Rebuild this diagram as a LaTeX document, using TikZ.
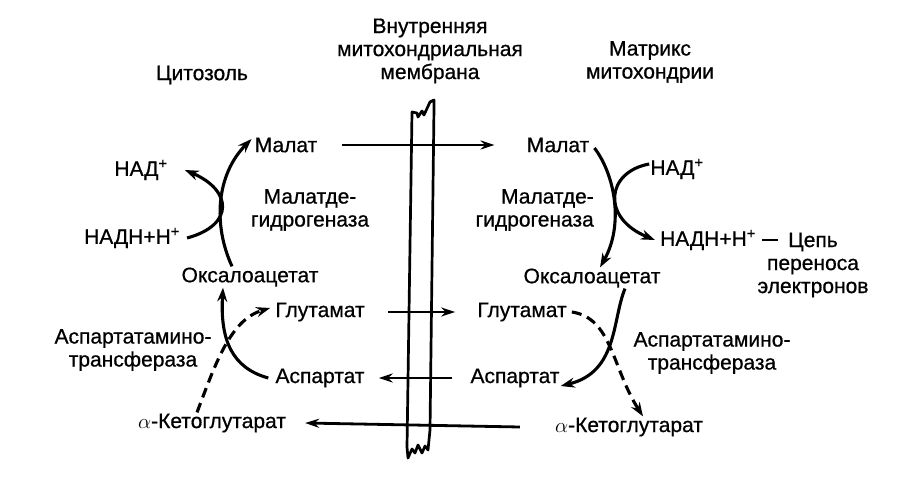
\documentclass[tikz,border=0pt]{standalone}
\usepackage{fontspec}
\setmainfont[FakeBold=0.7]{Liberation Sans}
\usetikzlibrary{arrows.meta}
\begin{document}
\begin{tikzpicture}[x=1pt,y=-1pt,
  lbl/.style={font=\fontsize{21}{23}\selectfont, inner sep=1pt, align=center},
  arr/.style={line width=2.8pt, -{Stealth[length=14pt,width=9pt]}},
  curv/.style={line width=3.1pt, -{Stealth[length=14pt,width=10pt]}},
  dsh/.style={curv, dash pattern=on 10pt off 6pt},
  memb/.style={line width=2.7pt, line join=round}]
\useasboundingbox (0,0) rectangle (910,494);

% headings
\node[lbl] (cyt) at (202,75) {Цитозоль};
\node[lbl] (mem) at (430,51) {Внутренняя\\митохондриальная\\мембрана};
\node[lbl] (mat) at (650,62) {Матрикс\\митохондрии};

% left (cytosol)
\node[lbl] (malL) at (286,145) {Малат};
\node[lbl] (nadL) at (141,170) {НАД\textsuperscript{+}};
\node[lbl] (mdgL) at (310,210) {Малатде-\\гидрогеназа};
\node[lbl] (nadhL) at (132,238) {НАДН+Н\textsuperscript{+}};
\node[lbl] (oaaL) at (250,277) {Оксалоацетат};
\node[lbl] (gluL) at (320,312) {Глутамат};
\node[lbl] (aatL) at (133,350) {Аспартатамино-\\трансфераза};
\node[lbl] (aspL) at (320,378) {Аспартат};
\node[lbl] (akgL) at (212,423) {$\alpha$-Кетоглутарат};

% right (matrix)
\node[lbl] (malR) at (558,145) {Малат};
\node[lbl] (nadR) at (677,169) {НАД\textsuperscript{+}};
\node[lbl, align=right, anchor=east] (mdgR) at (595,210) {Малатде-\\гидрогеназа};
\node[lbl] (nadhR) at (708,240) {НАДН+Н\textsuperscript{+}};
\node[lbl] (chain) at (813,265) {Цепь\\переноса\\электронов};
\node[lbl] (oaaR) at (592,278) {Оксалоацетат};
\node[lbl] (gluR) at (522,312) {Глутамат};
\node[lbl] (aspR) at (515,378) {Аспартат};
\node[lbl] (aatR) at (712,353) {Аспартатамино-\\трансфераза};
\node[lbl] (akgR) at (629,427) {$\alpha$-Кетоглутарат};

% membrane
\draw[memb] (407,447) -- (412,112) -- (417,113) -- (418,117) -- (422,111) -- (424,115) -- (430,102) -- (434,100) -- (434,107) -- (430,430) -- (428,450) -- (425,446) -- (422,453) -- (418,445) -- (415,453) -- (412,449) -- (408,458) -- cycle;

% transport arrows
\draw[arr] ([xshift=24pt]malL.east) -- ([xshift=-31pt]malR.west);
\draw[arr] ([xshift=22pt]gluL.east) -- ([xshift=-21pt]gluR.west);
\draw[arr] ([xshift=-17pt]aspR.west) -- ([xshift=13pt]aspL.east);
\draw[arr] ([xshift=-34pt]akgR.west) -- ([xshift=18pt]akgL.east);

% chain dash
\draw[line width=2.4pt] ([xshift=5pt]nadhR.east) -- ++(16,0);

% left malate dehydrogenase
\draw[curv] ([xshift=-18pt]oaaL.north) .. controls (213,225) and (216,175) .. ([xshift=-2pt,yshift=6pt]malL.west);
\draw[curv] ([xshift=6pt]nadhL.east) .. controls (235,225) and (232,190) .. ([xshift=16pt]nadL.east);

% left aminotransferase
\draw[curv] ([xshift=-6pt]aspL.west) .. controls (232,368) and (220,340) .. ([xshift=-27pt]oaaL.south);
\draw[dsh] ([xshift=-15pt]akgL.north) .. controls (215,365) and (230,320) .. ([xshift=-4pt,yshift=4pt]gluL.west);

% right malate dehydrogenase
\draw[curv] ([xshift=4pt,yshift=-3pt]malR.east) .. controls (615,175) and (624,225) .. ([xshift=8pt]oaaR.north);
\draw[curv] ([yshift=5pt]nadR.west) .. controls (606,172) and (601,218) .. ([xshift=-4pt]nadhR.west);

% right aminotransferase
\draw[curv] ([xshift=33pt]oaaR.south) .. controls (612,320) and (618,372) .. ([yshift=-8pt]aspR.east);
\draw[dsh] ([xshift=4pt]gluR.east) .. controls (612,318) and (612,368) .. ([xshift=14pt]akgR.north);
\end{tikzpicture}
\end{document}
